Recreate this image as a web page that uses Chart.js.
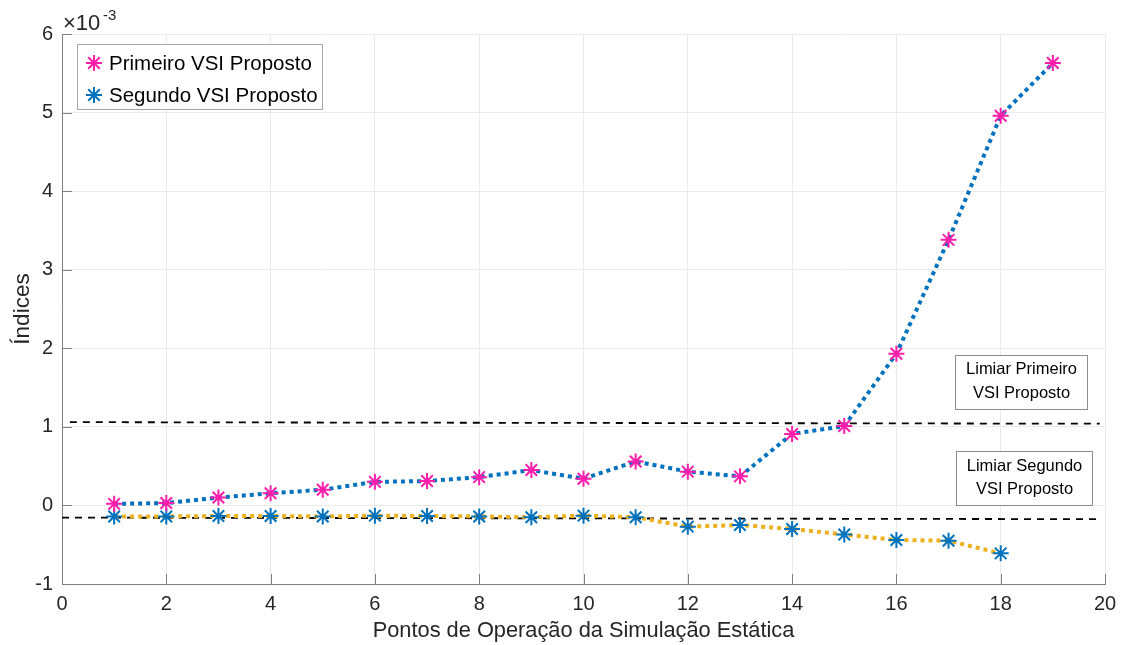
<!DOCTYPE html>
<html>
<head>
<meta charset="utf-8">
<script src="https://cdn.jsdelivr.net/npm/chart.js@4/dist/chart.umd.min.js"></script>
<style>
  html, body { margin: 0; padding: 0; background: #ffffff; }
  #wrap { width: 1121px; height: 645px; position: relative; }
</style>
</head>
<body>
<div id="wrap"><canvas id="c" width="1121" height="645"></canvas></div>
<script>
// Operating points of the static simulation
const pontos1 = [1, 2, 3, 4, 5, 6, 7, 8, 9, 10, 11, 12, 13, 14, 15, 16, 17, 18, 19];
const pontos2 = [1, 2, 3, 4, 5, 6, 7, 8, 9, 10, 11, 12, 13, 14, 15, 16, 17, 18];

// Index values, in units of 1e-3
const primeiroVSI = [0.02, 0.03, 0.10, 0.155, 0.20, 0.30, 0.31, 0.36, 0.45, 0.34, 0.56, 0.43, 0.37, 0.91, 1.01, 1.93, 3.38, 4.96, 5.63];
const segundoVSI = [-0.14, -0.14, -0.135, -0.135, -0.14, -0.13, -0.135, -0.14, -0.15, -0.13, -0.15, -0.27, -0.25, -0.30, -0.37, -0.44, -0.45, -0.61];

// Threshold lines (x ends, y ends), units of 1e-3
const limiarPrimeiroX = [0.15, 19.9];
const limiarPrimeiroY = [1.06, 1.04];
const limiarSegundoX = [0.0, 19.9];
const limiarSegundoY = [-0.155, -0.175];

const xTicks = [0, 2, 4, 6, 8, 10, 12, 14, 16, 18, 20];
const yTicks = [-1, 0, 1, 2, 3, 4, 5, 6];

const legendLabels = ['Primeiro VSI Proposto', 'Segundo VSI Proposto'];
const caixaPrimeiro = ['Limiar Primeiro', 'VSI Proposto'];
const caixaSegundo = ['Limiar Segundo', 'VSI Proposto'];

const AZUL = '#0072BD';
const ROSA = '#FF1DAC';
const AMARELO = '#EDB120';
const FONT = '"Liberation Sans", Arial, sans-serif';
const TXT = '#262626';
const AXIS = '#808080';

const toXY = (xs, ys) => xs.map((x, i) => ({ x: x, y: ys[i] }));

// Asterisk marker: vertical, horizontal and two diagonal strokes
function drawStar(ctx, x, y, r, cor) {
  ctx.save();
  ctx.strokeStyle = cor;
  ctx.lineWidth = 2;
  ctx.setLineDash([]);
  ctx.beginPath();
  ctx.moveTo(x, y - r); ctx.lineTo(x, y + r);
  ctx.moveTo(x - r, y); ctx.lineTo(x + r, y);
  const d = r * 0.72;
  ctx.moveTo(x - d, y - d); ctx.lineTo(x + d, y + d);
  ctx.moveTo(x - d, y + d); ctx.lineTo(x + d, y - d);
  ctx.stroke();
  ctx.restore();
}

function caixa(ctx, x, y, w, h, linhas, ys) {
  ctx.fillStyle = '#ffffff';
  ctx.fillRect(x, y, w, h);
  ctx.strokeStyle = '#8c8c8c';
  ctx.lineWidth = 1;
  ctx.strokeRect(x, y, w, h);
  ctx.fillStyle = '#000000';
  ctx.font = '16.5px ' + FONT;
  ctx.textAlign = 'center';
  ctx.textBaseline = 'middle';
  linhas.forEach((t, i) => ctx.fillText(t, x + w / 2, ys[i]));
  ctx.textAlign = 'left';
}

// Star markers drawn over the dotted lines of each series
const marcadores = {
  id: 'marcadores',
  afterDatasetsDraw(chart) {
    const ctx = chart.ctx;
    chart.data.datasets.forEach((ds, i) => {
      if (!ds.corEstrela) return;
      chart.getDatasetMeta(i).data.forEach(p => drawStar(ctx, p.x, p.y, 8, ds.corEstrela));
    });
  }
};

// Inward ticks, exponent label, legend and text boxes
const decoracoes = {
  id: 'decoracoes',
  afterDatasetsDraw(chart) {
    const ctx = chart.ctx;
    const xs = chart.scales.x, ys = chart.scales.y;
    const a = chart.chartArea;
    ctx.save();
    ctx.strokeStyle = AXIS;
    ctx.lineWidth = 1;
    ctx.beginPath();
    xTicks.forEach(t => {
      const px = Math.round(xs.getPixelForValue(t)) + 0.5;
      ctx.moveTo(px, a.bottom); ctx.lineTo(px, a.bottom - 10);
    });
    yTicks.forEach(t => {
      const py = Math.round(ys.getPixelForValue(t)) + 0.5;
      ctx.moveTo(a.left, py); ctx.lineTo(a.left + 10, py);
    });
    ctx.stroke();

    // exponent
    ctx.fillStyle = TXT;
    ctx.textBaseline = 'alphabetic';
    ctx.textAlign = 'left';
    ctx.font = '22px ' + FONT;
    ctx.fillText('\u00d710', a.left + 1, 30);
    ctx.font = '15px ' + FONT;
    ctx.fillText('-3', a.left + 41, 20);

    // legend
    const lx = 77.5, ly = 44.5, lw = 245, lh = 65;
    ctx.fillStyle = '#ffffff';
    ctx.fillRect(lx, ly, lw, lh);
    ctx.strokeStyle = '#a6a6a6';
    ctx.lineWidth = 1;
    ctx.strokeRect(lx, ly, lw, lh);
    const cores = [ROSA, AZUL];
    legendLabels.forEach((lab, i) => {
      const cy = 63 + i * 32;
      drawStar(ctx, 94, cy, 8, cores[i]);
      ctx.fillStyle = '#000000';
      ctx.font = '20.5px ' + FONT;
      ctx.textBaseline = 'middle';
      ctx.fillText(lab, 109, cy + 1);
    });

    // text boxes
    caixa(ctx, 955.5, 355.5, 132, 54, caixaPrimeiro, [369, 393]);
    caixa(ctx, 956.5, 451.5, 136, 54, caixaSegundo, [466, 489]);
    ctx.restore();
  }
};

new Chart(document.getElementById('c'), {
  type: 'line',
  data: {
    datasets: [
      {
        label: legendLabels[1],
        data: toXY(pontos2, segundoVSI),
        borderColor: AMARELO,
        borderWidth: 4,
        borderDash: [4, 4],
        borderCapStyle: 'butt',
        pointRadius: 0,
        corEstrela: AZUL,
        fill: false,
        tension: 0
      },
      {
        label: legendLabels[0],
        data: toXY(pontos1, primeiroVSI),
        borderColor: AZUL,
        borderWidth: 4,
        borderDash: [4, 4],
        borderCapStyle: 'butt',
        pointRadius: 0,
        corEstrela: ROSA,
        fill: false,
        tension: 0
      },
      {
        label: 'Limiar Primeiro VSI Proposto',
        data: toXY(limiarPrimeiroX, limiarPrimeiroY),
        borderColor: '#000000',
        borderWidth: 1.8,
        borderDash: [7, 6],
        pointRadius: 0,
        fill: false
      },
      {
        label: 'Limiar Segundo VSI Proposto',
        data: toXY(limiarSegundoX, limiarSegundoY),
        borderColor: '#000000',
        borderWidth: 1.8,
        borderDash: [7, 6],
        pointRadius: 0,
        fill: false
      }
    ]
  },
  options: {
    responsive: false,
    animation: false,
    devicePixelRatio: 1,
    layout: { padding: { left: 0, right: 16, top: 34, bottom: 0 } },
    plugins: {
      legend: { display: false },
      tooltip: { enabled: false }
    },
    scales: {
      x: {
        type: 'linear',
        min: 0, max: 20,
        afterFit(s) { s.height = 61; s.paddingLeft = 0; s.paddingRight = 0; },
        afterBuildTicks(s) { s.ticks = xTicks.map(v => ({ value: v })); },
        grid: { color: '#ebebeb', drawTicks: false, lineWidth: 1 },
        border: { display: true, color: AXIS, width: 1 },
        ticks: { color: TXT, font: { family: FONT, size: 20 }, padding: 8, maxRotation: 0 },
        title: {
          display: true,
          text: 'Pontos de Operação da Simulação Estática',
          color: TXT,
          font: { family: FONT, size: 21.8 },
          padding: { top: 0, bottom: 1 }
        }
      },
      y: {
        type: 'linear',
        min: -1, max: 6,
        afterFit(s) { s.width = 62; s.paddingTop = 0; s.paddingBottom = 0; },
        afterBuildTicks(s) { s.ticks = yTicks.map(v => ({ value: v })); },
        grid: { color: '#ebebeb', drawTicks: false, lineWidth: 1 },
        border: { display: true, color: AXIS, width: 1 },
        ticks: { color: TXT, font: { family: FONT, size: 20 }, padding: 9 },
        title: {
          display: true,
          text: 'Índices',
          color: TXT,
          font: { family: FONT, size: 22.5 },
          padding: { top: 9, bottom: 0 }
        }
      }
    }
  },
  plugins: [marcadores, decoracoes]
});
</script>
</body>
</html>
